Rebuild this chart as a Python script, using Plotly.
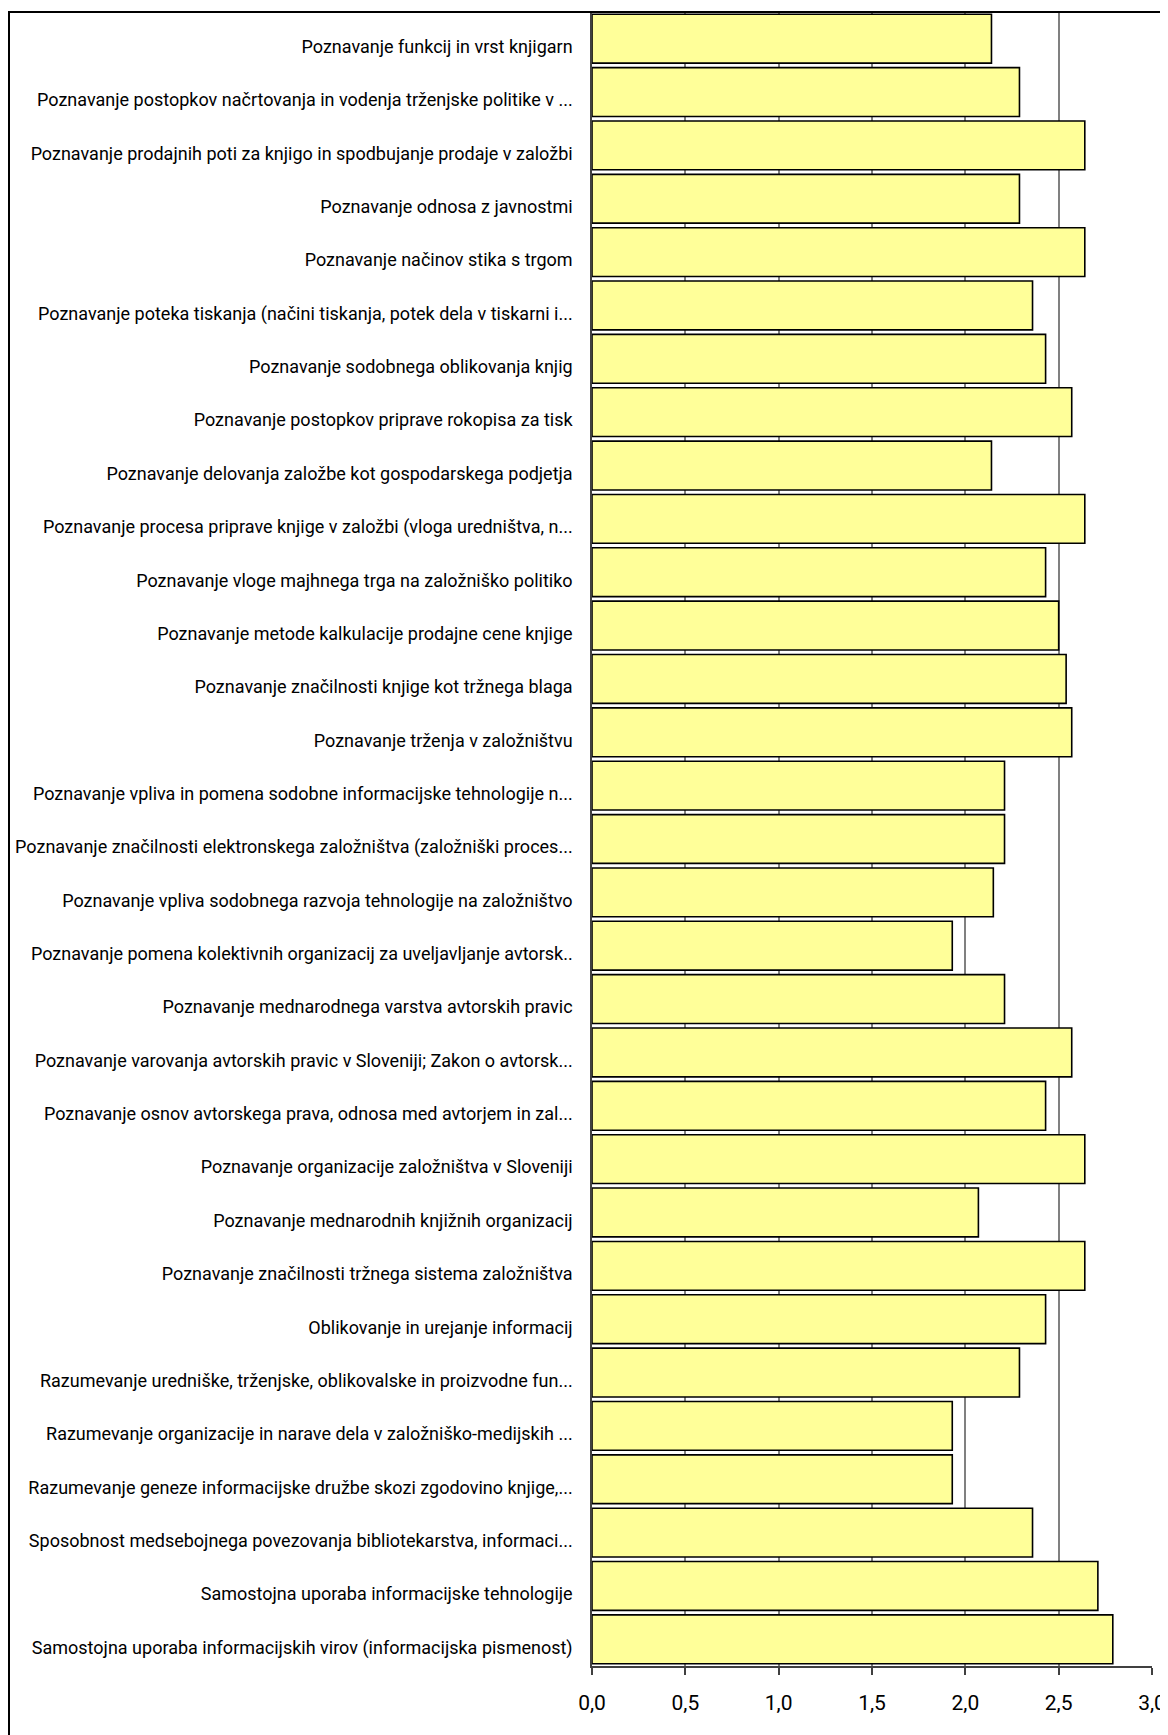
import plotly.graph_objects as go

categories = [
    "Poznavanje funkcij in vrst knjigarn",
    "Poznavanje postopkov načrtovanja in vodenja trženjske politike v ...",
    "Poznavanje prodajnih poti za knjigo in spodbujanje prodaje v založbi",
    "Poznavanje odnosa z javnostmi",
    "Poznavanje načinov stika s trgom",
    "Poznavanje poteka tiskanja (načini tiskanja, potek dela v tiskarni i...",
    "Poznavanje sodobnega oblikovanja knjig",
    "Poznavanje postopkov priprave rokopisa za tisk",
    "Poznavanje delovanja založbe kot gospodarskega podjetja",
    "Poznavanje procesa priprave knjige v založbi (vloga uredništva, n...",
    "Poznavanje vloge majhnega trga na založniško politiko",
    "Poznavanje metode kalkulacije prodajne cene knjige",
    "Poznavanje značilnosti knjige kot tržnega blaga",
    "Poznavanje trženja v založništvu",
    "Poznavanje vpliva in pomena sodobne informacijske tehnologije n...",
    "Poznavanje značilnosti elektronskega založništva (založniški proces...",
    "Poznavanje vpliva sodobnega razvoja tehnologije na založništvo",
    "Poznavanje pomena kolektivnih organizacij za uveljavljanje avtorsk..",
    "Poznavanje mednarodnega varstva avtorskih pravic",
    "Poznavanje varovanja avtorskih pravic v Sloveniji; Zakon o avtorsk...",
    "Poznavanje osnov avtorskega prava, odnosa med avtorjem in zal...",
    "Poznavanje organizacije založništva v Sloveniji",
    "Poznavanje mednarodnih knjižnih organizacij",
    "Poznavanje značilnosti tržnega sistema založništva",
    "Oblikovanje in urejanje informacij",
    "Razumevanje uredniške, trženjske, oblikovalske in proizvodne fun...",
    "Razumevanje organizacije in narave dela v založniško-medijskih ...",
    "Razumevanje geneze informacijske družbe skozi zgodovino knjige,...",
    "Sposobnost medsebojnega povezovanja bibliotekarstva, informaci...",
    "Samostojna uporaba informacijske tehnologije",
    "Samostojna uporaba informacijskih virov (informacijska pismenost)",
]

values = [
    2.14, 2.29, 2.64, 2.29, 2.64, 2.36, 2.43, 2.57, 2.14, 2.64,
    2.43, 2.50, 2.54, 2.57, 2.21, 2.21, 2.15, 1.93, 2.21, 2.57,
    2.43, 2.64, 2.07, 2.64, 2.43, 2.29, 1.93, 1.93, 2.36, 2.71,
    2.79,
]

x_ticks = [0.0, 0.5, 1.0, 1.5, 2.0, 2.5, 3.0]

FONT = "Roboto, Liberation Sans, sans-serif"

# The page body has an 8px default margin, so the figure is sized to fit
# the 1168x1735 window exactly.
W, H = 1160, 1727
L, R, T, B = 584, 16, 4, 69

fig = go.Figure()
fig.add_trace(go.Bar(
    y=categories,
    x=values,
    orientation="h",
    marker=dict(color="#FFFF99", line=dict(color="#000000", width=1.6)),
    width=0.915,
    hoverinfo="x+y",
))

plot_w = W - L - R
plot_h = H - T - B

def px_to_paper_x(px):
    return (px - L) / plot_w

def px_to_paper_y(py):
    return (H - B - py) / plot_h

fig.update_layout(
    width=W,
    height=H,
    margin=dict(l=L, r=R, t=T, b=B, pad=0, autoexpand=False),
    paper_bgcolor="white",
    plot_bgcolor="white",
    separators=",.",
    showlegend=False,
    font=dict(family=FONT, size=18, color="#000000"),
    xaxis=dict(
        range=[0, 3.0],
        tickvals=x_ticks,
        tickformat=".1f",
        automargin=False,
        showgrid=True,
        gridcolor="#808080",
        gridwidth=1.5,
        zeroline=False,
        showline=True,
        linecolor="#404040",
        linewidth=1.5,
        ticks="outside",
        ticklen=7,
        tickcolor="#404040",
        tickwidth=1.5,
        ticklabelstandoff=10,
        tickfont=dict(family=FONT, size=21, color="#000000"),
    ),
    yaxis=dict(
        type="category",
        categoryorder="array",
        categoryarray=categories,
        autorange="reversed",
        automargin=False,
        showgrid=False,
        showline=True,
        linecolor="#404040",
        linewidth=1.5,
        ticks="",
        ticklabelstandoff=14,
        ticklabelshift=-8,
        tickfont=dict(family=FONT, size=18, color="#000000"),
    ),
    shapes=[
        dict(
            type="rect",
            xref="paper", yref="paper",
            x0=px_to_paper_x(1), x1=px_to_paper_x(1158),
            y0=px_to_paper_y(1760), y1=px_to_paper_y(4),
            line=dict(color="#000000", width=2),
            fillcolor="rgba(0,0,0,0)",
            layer="above",
        )
    ],
)

fig.write_html("out.html")
